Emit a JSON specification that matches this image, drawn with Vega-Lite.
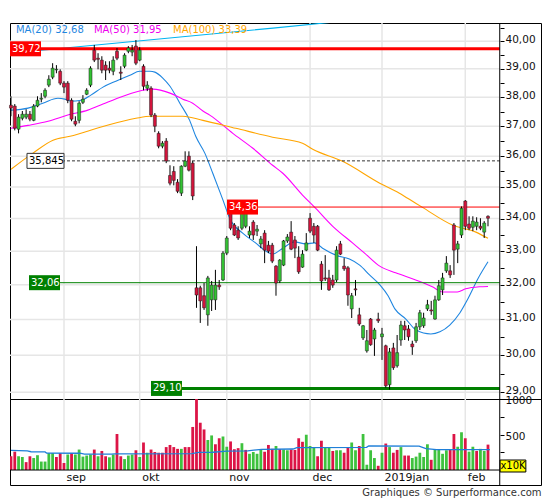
{
  "$schema": "https://vega.github.io/schema/vega-lite/v6.json",
  "padding": {"left": 7, "top": 20, "right": 0, "bottom": 0},
  "background": "white",
  "spacing": 0,
  "bounds": "flush",
  "title": {
    "text": "Graphiques © Surperformance.com",
    "orient": "bottom",
    "anchor": "end",
    "font": "DejaVu Sans",
    "fontSize": 10,
    "fontWeight": "normal",
    "color": "#333333",
    "offset": 2,
    "dx": 0
  },
  "config": {
    "view": {"stroke": "#000000", "strokeWidth": 1},
    "font": "DejaVu Sans",
    "axis": {"labelFont": "DejaVu Sans", "labelFontSize": 10.5, "labelColor": "#111111", "tickColor": "#000000"}
  },
  "datasets": {
    "grid": [
      {"p": 29}, {"p": 30}, {"p": 31}, {"p": 32}, {"p": 33}, {"p": 34},
      {"p": 35}, {"p": 36}, {"p": 37}, {"p": 38}, {"p": 39}, {"p": 40}
    ],
    "months": [
      {"i": 14, "m": "sep"}, {"i": 34, "m": "okt"}, {"i": 57, "m": "nov"},
      {"i": 79, "m": "dec"}, {"i": 98, "m": "2019jan"}, {"i": 120, "m": "feb"}
    ],
    "levels": [
      {"level": 39.72, "from": -0.26, "lbl": "39,72", "kind": "r3"},
      {"level": 35.845, "from": 4.23, "lbl": "35,845", "kind": "p"},
      {"level": 34.36, "from": 57.06, "lbl": "34,36", "kind": "r1"},
      {"level": 32.06, "from": 4.76, "lbl": "32,06", "kind": "g1"},
      {"level": 29.10, "from": 36.98, "lbl": "29,10", "kind": "g3"}
    ],
    "candles": [
      {"i": 0, "o": 37.72, "h": 38.03, "l": 37.34, "c": 37.62, "v": 195, "vd": "d"},
      {"i": 1, "o": 37.69, "h": 37.76, "l": 36.86, "c": 36.93, "v": 260, "vd": "d"},
      {"i": 2, "o": 36.90, "h": 37.41, "l": 36.76, "c": 37.31, "v": 195, "vd": "u"},
      {"i": 3, "o": 37.27, "h": 37.52, "l": 37.20, "c": 37.41, "v": 185, "vd": "u"},
      {"i": 4, "o": 37.31, "h": 37.58, "l": 37.24, "c": 37.41, "v": 112, "vd": "d"},
      {"i": 5, "o": 37.41, "h": 37.52, "l": 37.17, "c": 37.24, "v": 195, "vd": "d"},
      {"i": 6, "o": 37.20, "h": 37.76, "l": 37.17, "c": 37.69, "v": 170, "vd": "u"},
      {"i": 7, "o": 37.69, "h": 38.03, "l": 37.65, "c": 37.89, "v": 210, "vd": "u"},
      {"i": 8, "o": 37.93, "h": 38.14, "l": 37.82, "c": 37.96, "v": 120, "vd": "u"},
      {"i": 9, "o": 38.03, "h": 38.31, "l": 37.96, "c": 38.24, "v": 120, "vd": "u"},
      {"i": 10, "o": 38.42, "h": 38.77, "l": 38.35, "c": 38.63, "v": 240, "vd": "u"},
      {"i": 11, "o": 38.70, "h": 39.20, "l": 38.63, "c": 39.02, "v": 240, "vd": "u"},
      {"i": 12, "o": 38.96, "h": 39.13, "l": 38.84, "c": 38.98, "v": 185, "vd": "d"},
      {"i": 13, "o": 38.91, "h": 38.98, "l": 38.42, "c": 38.49, "v": 240, "vd": "d"},
      {"i": 14, "o": 38.49, "h": 38.56, "l": 38.14, "c": 38.35, "v": 100, "vd": "d"},
      {"i": 15, "o": 38.49, "h": 38.56, "l": 37.79, "c": 37.89, "v": 220, "vd": "u"},
      {"i": 16, "o": 37.89, "h": 37.96, "l": 37.17, "c": 37.24, "v": 240, "vd": "d"},
      {"i": 17, "o": 37.17, "h": 37.34, "l": 37.00, "c": 37.07, "v": 220, "vd": "u"},
      {"i": 18, "o": 37.20, "h": 37.86, "l": 37.10, "c": 37.79, "v": 290, "vd": "u"},
      {"i": 19, "o": 37.82, "h": 38.07, "l": 37.76, "c": 37.93, "v": 190, "vd": "u"},
      {"i": 20, "o": 38.10, "h": 38.31, "l": 38.07, "c": 38.24, "v": 205, "vd": "u"},
      {"i": 21, "o": 38.42, "h": 39.09, "l": 38.35, "c": 39.02, "v": 220, "vd": "u"},
      {"i": 22, "o": 39.67, "h": 39.86, "l": 39.24, "c": 39.31, "v": 290, "vd": "d"},
      {"i": 23, "o": 39.38, "h": 39.56, "l": 38.98, "c": 39.34, "v": 195, "vd": "u"},
      {"i": 24, "o": 39.31, "h": 39.45, "l": 38.84, "c": 38.95, "v": 270, "vd": "d"},
      {"i": 25, "o": 39.13, "h": 39.27, "l": 38.60, "c": 38.95, "v": 195, "vd": "d"},
      {"i": 26, "o": 39.02, "h": 39.27, "l": 38.84, "c": 38.95, "v": 180, "vd": "u"},
      {"i": 27, "o": 38.91, "h": 39.45, "l": 38.77, "c": 39.31, "v": 220, "vd": "u"},
      {"i": 28, "o": 39.63, "h": 39.75, "l": 39.31, "c": 39.38, "v": 510, "vd": "d"},
      {"i": 29, "o": 38.88, "h": 39.09, "l": 38.60, "c": 38.84, "v": 195, "vd": "d"},
      {"i": 30, "o": 39.09, "h": 39.56, "l": 39.02, "c": 39.49, "v": 155, "vd": "u"},
      {"i": 31, "o": 39.63, "h": 39.82, "l": 39.56, "c": 39.75, "v": 205, "vd": "u"},
      {"i": 32, "o": 39.60, "h": 39.86, "l": 39.45, "c": 39.67, "v": 220, "vd": "u"},
      {"i": 33, "o": 39.82, "h": 40.04, "l": 39.13, "c": 39.20, "v": 280, "vd": "d"},
      {"i": 34, "o": 39.31, "h": 39.78, "l": 39.27, "c": 39.67, "v": 185, "vd": "u"},
      {"i": 35, "o": 39.09, "h": 39.16, "l": 38.24, "c": 38.38, "v": 390, "vd": "d"},
      {"i": 36, "o": 38.31, "h": 38.56, "l": 38.21, "c": 38.42, "v": 245, "vd": "u"},
      {"i": 37, "o": 38.31, "h": 38.38, "l": 37.31, "c": 37.38, "v": 290, "vd": "d"},
      {"i": 38, "o": 37.38, "h": 37.45, "l": 36.80, "c": 37.00, "v": 255, "vd": "d"},
      {"i": 39, "o": 36.76, "h": 36.83, "l": 36.26, "c": 36.33, "v": 245, "vd": "d"},
      {"i": 40, "o": 36.33, "h": 36.50, "l": 36.26, "c": 36.43, "v": 245, "vd": "d"},
      {"i": 41, "o": 36.50, "h": 36.60, "l": 35.77, "c": 35.84, "v": 325, "vd": "d"},
      {"i": 42, "o": 35.37, "h": 35.70, "l": 35.05, "c": 35.12, "v": 355, "vd": "d"},
      {"i": 43, "o": 35.50, "h": 35.67, "l": 35.05, "c": 35.21, "v": 325, "vd": "d"},
      {"i": 44, "o": 35.15, "h": 35.25, "l": 34.80, "c": 34.86, "v": 300, "vd": "d"},
      {"i": 45, "o": 34.80, "h": 35.70, "l": 34.71, "c": 35.67, "v": 300, "vd": "u"},
      {"i": 46, "o": 35.67, "h": 36.16, "l": 35.64, "c": 35.84, "v": 325, "vd": "d"},
      {"i": 47, "o": 36.00, "h": 36.16, "l": 35.50, "c": 35.54, "v": 325, "vd": "d"},
      {"i": 48, "o": 35.77, "h": 35.84, "l": 34.58, "c": 34.71, "v": 610, "vd": "d"},
      {"i": 49, "o": 31.91, "h": 33.15, "l": 31.33, "c": 31.70, "v": 1035, "vd": "d"},
      {"i": 50, "o": 31.91, "h": 31.97, "l": 30.90, "c": 31.53, "v": 670, "vd": "d"},
      {"i": 51, "o": 31.68, "h": 32.05, "l": 31.27, "c": 31.33, "v": 575, "vd": "d"},
      {"i": 52, "o": 31.13, "h": 32.26, "l": 30.82, "c": 32.20, "v": 425, "vd": "u"},
      {"i": 53, "o": 31.56, "h": 32.11, "l": 31.24, "c": 31.99, "v": 490, "vd": "u"},
      {"i": 54, "o": 31.56, "h": 32.44, "l": 31.27, "c": 31.99, "v": 365, "vd": "d"},
      {"i": 55, "o": 31.99, "h": 32.14, "l": 31.85, "c": 31.94, "v": 450, "vd": "d"},
      {"i": 56, "o": 32.14, "h": 33.00, "l": 32.11, "c": 32.94, "v": 475, "vd": "u"},
      {"i": 57, "o": 32.94, "h": 33.46, "l": 32.88, "c": 33.40, "v": 330, "vd": "u"},
      {"i": 58, "o": 34.17, "h": 34.35, "l": 33.64, "c": 33.70, "v": 405, "vd": "d"},
      {"i": 59, "o": 33.80, "h": 33.86, "l": 33.46, "c": 33.49, "v": 295, "vd": "d"},
      {"i": 60, "o": 33.64, "h": 33.76, "l": 33.34, "c": 33.40, "v": 310, "vd": "d"},
      {"i": 61, "o": 33.70, "h": 34.23, "l": 33.64, "c": 34.17, "v": 380, "vd": "u"},
      {"i": 62, "o": 33.76, "h": 34.32, "l": 33.70, "c": 34.23, "v": 285, "vd": "d"},
      {"i": 63, "o": 33.49, "h": 33.76, "l": 33.40, "c": 33.61, "v": 230, "vd": "u"},
      {"i": 64, "o": 33.89, "h": 33.95, "l": 33.34, "c": 33.49, "v": 255, "vd": "u"},
      {"i": 65, "o": 33.61, "h": 33.80, "l": 33.46, "c": 33.67, "v": 230, "vd": "u"},
      {"i": 66, "o": 33.22, "h": 33.46, "l": 33.09, "c": 33.37, "v": 295, "vd": "u"},
      {"i": 67, "o": 33.55, "h": 33.64, "l": 32.64, "c": 33.03, "v": 260, "vd": "d"},
      {"i": 68, "o": 33.18, "h": 33.31, "l": 32.94, "c": 33.00, "v": 355, "vd": "d"},
      {"i": 69, "o": 33.18, "h": 33.25, "l": 32.64, "c": 32.70, "v": 300, "vd": "d"},
      {"i": 70, "o": 32.55, "h": 32.58, "l": 31.68, "c": 32.05, "v": 340, "vd": "u"},
      {"i": 71, "o": 32.11, "h": 32.76, "l": 32.05, "c": 32.73, "v": 295, "vd": "d"},
      {"i": 72, "o": 32.58, "h": 33.34, "l": 32.55, "c": 33.31, "v": 290, "vd": "u"},
      {"i": 73, "o": 33.31, "h": 33.52, "l": 33.25, "c": 33.43, "v": 280, "vd": "u"},
      {"i": 74, "o": 33.58, "h": 33.92, "l": 33.03, "c": 33.06, "v": 290, "vd": "d"},
      {"i": 75, "o": 33.34, "h": 33.46, "l": 32.79, "c": 33.09, "v": 285, "vd": "d"},
      {"i": 76, "o": 32.82, "h": 33.15, "l": 32.32, "c": 32.38, "v": 450, "vd": "d"},
      {"i": 77, "o": 32.52, "h": 33.03, "l": 32.50, "c": 32.91, "v": 400, "vd": "d"},
      {"i": 78, "o": 33.03, "h": 33.55, "l": 33.00, "c": 33.25, "v": 500, "vd": "u"},
      {"i": 79, "o": 34.01, "h": 34.17, "l": 33.55, "c": 33.61, "v": 340, "vd": "u"},
      {"i": 80, "o": 33.76, "h": 33.86, "l": 33.25, "c": 33.49, "v": 325, "vd": "u"},
      {"i": 81, "o": 33.76, "h": 33.80, "l": 33.00, "c": 33.03, "v": 195, "vd": "d"},
      {"i": 82, "o": 32.61, "h": 32.70, "l": 31.85, "c": 32.11, "v": 415, "vd": "d"},
      {"i": 83, "o": 32.20, "h": 32.88, "l": 32.11, "c": 32.17, "v": 325, "vd": "u"},
      {"i": 84, "o": 32.20, "h": 32.44, "l": 31.82, "c": 31.85, "v": 325, "vd": "u"},
      {"i": 85, "o": 32.14, "h": 32.29, "l": 31.91, "c": 31.99, "v": 270, "vd": "d"},
      {"i": 86, "o": 32.14, "h": 33.15, "l": 32.08, "c": 33.03, "v": 280, "vd": "u"},
      {"i": 87, "o": 33.22, "h": 33.31, "l": 32.88, "c": 32.91, "v": 280, "vd": "u"},
      {"i": 88, "o": 32.55, "h": 32.79, "l": 32.41, "c": 32.47, "v": 245, "vd": "d"},
      {"i": 89, "o": 32.50, "h": 32.55, "l": 31.39, "c": 31.70, "v": 320, "vd": "d"},
      {"i": 90, "o": 31.30, "h": 31.76, "l": 31.04, "c": 31.68, "v": 390, "vd": "u"},
      {"i": 91, "o": 31.88, "h": 32.14, "l": 31.68, "c": 31.85, "v": 280, "vd": "u"},
      {"i": 92, "o": 31.13, "h": 31.33, "l": 30.82, "c": 30.87, "v": 340, "vd": "d"},
      {"i": 93, "o": 30.48, "h": 30.84, "l": 30.42, "c": 30.82, "v": 510, "vd": "u"},
      {"i": 94, "o": 30.12, "h": 30.70, "l": 30.07, "c": 30.40, "v": 75, "vd": "u"},
      {"i": 95, "o": 31.01, "h": 31.04, "l": 30.26, "c": 30.29, "v": 280, "vd": "u"},
      {"i": 96, "o": 30.45, "h": 30.76, "l": 29.98, "c": 30.70, "v": 170, "vd": "u"},
      {"i": 97, "o": 31.01, "h": 31.19, "l": 30.90, "c": 30.96, "v": 60, "vd": "d"},
      {"i": 98, "o": 30.51, "h": 30.76, "l": 29.87, "c": 30.59, "v": 245, "vd": "u"},
      {"i": 99, "o": 30.26, "h": 30.29, "l": 29.12, "c": 29.17, "v": 375, "vd": "d"},
      {"i": 100, "o": 29.20, "h": 30.20, "l": 29.07, "c": 30.09, "v": 325, "vd": "u"},
      {"i": 101, "o": 30.20, "h": 30.34, "l": 29.60, "c": 29.66, "v": 245, "vd": "d"},
      {"i": 102, "o": 29.71, "h": 30.56, "l": 29.66, "c": 30.07, "v": 285, "vd": "d"},
      {"i": 103, "o": 30.42, "h": 30.96, "l": 30.26, "c": 30.84, "v": 325, "vd": "u"},
      {"i": 104, "o": 30.82, "h": 30.96, "l": 30.42, "c": 30.70, "v": 205, "vd": "d"},
      {"i": 105, "o": 30.73, "h": 30.84, "l": 30.40, "c": 30.51, "v": 205, "vd": "d"},
      {"i": 106, "o": 30.31, "h": 30.40, "l": 30.01, "c": 30.23, "v": 170, "vd": "u"},
      {"i": 107, "o": 30.40, "h": 30.90, "l": 30.34, "c": 30.79, "v": 190, "vd": "u"},
      {"i": 108, "o": 30.79, "h": 31.27, "l": 30.70, "c": 31.19, "v": 245, "vd": "u"},
      {"i": 109, "o": 30.82, "h": 31.19, "l": 30.76, "c": 31.04, "v": 185, "vd": "u"},
      {"i": 110, "o": 31.30, "h": 31.56, "l": 31.24, "c": 31.42, "v": 365, "vd": "u"},
      {"i": 111, "o": 31.27, "h": 31.53, "l": 31.13, "c": 31.24, "v": 145, "vd": "d"},
      {"i": 112, "o": 31.01, "h": 31.68, "l": 30.99, "c": 31.56, "v": 290, "vd": "u"},
      {"i": 113, "o": 31.56, "h": 32.14, "l": 31.53, "c": 31.97, "v": 290, "vd": "u"},
      {"i": 114, "o": 31.85, "h": 32.35, "l": 31.70, "c": 32.20, "v": 230, "vd": "u"},
      {"i": 115, "o": 32.41, "h": 32.85, "l": 32.35, "c": 32.64, "v": 280, "vd": "u"},
      {"i": 116, "o": 32.41, "h": 32.58, "l": 32.20, "c": 32.29, "v": 285, "vd": "d"},
      {"i": 117, "o": 33.80, "h": 33.86, "l": 32.29, "c": 33.03, "v": 510, "vd": "d"},
      {"i": 118, "o": 33.06, "h": 33.31, "l": 32.64, "c": 33.22, "v": 330, "vd": "u"},
      {"i": 119, "o": 33.49, "h": 34.38, "l": 33.40, "c": 34.32, "v": 535, "vd": "u"},
      {"i": 120, "o": 34.55, "h": 34.58, "l": 33.64, "c": 33.76, "v": 450, "vd": "d"},
      {"i": 121, "o": 33.83, "h": 34.07, "l": 33.64, "c": 33.70, "v": 260, "vd": "u"},
      {"i": 122, "o": 33.73, "h": 34.07, "l": 33.61, "c": 33.92, "v": 330, "vd": "u"},
      {"i": 123, "o": 33.76, "h": 34.04, "l": 33.64, "c": 33.89, "v": 270, "vd": "d"},
      {"i": 124, "o": 33.76, "h": 34.01, "l": 33.64, "c": 33.70, "v": 300, "vd": "u"},
      {"i": 125, "o": 33.58, "h": 33.92, "l": 33.40, "c": 33.86, "v": 270, "vd": "u"},
      {"i": 126, "o": 34.07, "h": 34.10, "l": 33.76, "c": 34.01, "v": 360, "vd": "d"}
    ],
    "ma": [
      {"s": "MA20", "i": 0, "v": 37.55}, {"s": "MA20", "i": 4.5, "v": 37.62},
      {"s": "MA20", "i": 8.4, "v": 37.79}, {"s": "MA20", "i": 12.4, "v": 37.96},
      {"s": "MA20", "i": 14.2, "v": 37.93}, {"s": "MA20", "i": 15.8, "v": 37.86},
      {"s": "MA20", "i": 18.5, "v": 37.89}, {"s": "MA20", "i": 21.1, "v": 38.07},
      {"s": "MA20", "i": 24.3, "v": 38.35}, {"s": "MA20", "i": 27.7, "v": 38.56},
      {"s": "MA20", "i": 31.4, "v": 38.77}, {"s": "MA20", "i": 34, "v": 38.91},
      {"s": "MA20", "i": 36.7, "v": 38.91}, {"s": "MA20", "i": 38, "v": 38.88},
      {"s": "MA20", "i": 40.1, "v": 38.67}, {"s": "MA20", "i": 42, "v": 38.38},
      {"s": "MA20", "i": 44.6, "v": 37.79}, {"s": "MA20", "i": 47.2, "v": 37.2},
      {"s": "MA20", "i": 48.8, "v": 36.66}, {"s": "MA20", "i": 51.2, "v": 36.1},
      {"s": "MA20", "i": 53.3, "v": 35.44}, {"s": "MA20", "i": 55.9, "v": 34.61},
      {"s": "MA20", "i": 58, "v": 33.95}, {"s": "MA20", "i": 61.2, "v": 33.55},
      {"s": "MA20", "i": 64.6, "v": 33.25}, {"s": "MA20", "i": 67.3, "v": 33.0},
      {"s": "MA20", "i": 69.1, "v": 32.91}, {"s": "MA20", "i": 71.8, "v": 33.09},
      {"s": "MA20", "i": 74.9, "v": 33.28}, {"s": "MA20", "i": 77.8, "v": 33.22},
      {"s": "MA20", "i": 80.2, "v": 33.25}, {"s": "MA20", "i": 82.3, "v": 33.09},
      {"s": "MA20", "i": 85.8, "v": 32.88}, {"s": "MA20", "i": 89.4, "v": 32.76},
      {"s": "MA20", "i": 92.1, "v": 32.58}, {"s": "MA20", "i": 94.7, "v": 32.29},
      {"s": "MA20", "i": 97.5, "v": 31.99}, {"s": "MA20", "i": 99.6, "v": 31.68},
      {"s": "MA20", "i": 101.4, "v": 31.3}, {"s": "MA20", "i": 104.3, "v": 31.01},
      {"s": "MA20", "i": 107, "v": 30.7}, {"s": "MA20", "i": 110.9, "v": 30.59},
      {"s": "MA20", "i": 113.3, "v": 30.65}, {"s": "MA20", "i": 115.9, "v": 30.84},
      {"s": "MA20", "i": 118.6, "v": 31.19}, {"s": "MA20", "i": 120.7, "v": 31.59},
      {"s": "MA20", "i": 123.3, "v": 32.17}, {"s": "MA20", "i": 126, "v": 32.68},
      {"s": "MA50", "i": 0, "v": 36.93}, {"s": "MA50", "i": 4.5, "v": 37.03},
      {"s": "MA50", "i": 9.8, "v": 37.17}, {"s": "MA50", "i": 15, "v": 37.38},
      {"s": "MA50", "i": 20.3, "v": 37.55}, {"s": "MA50", "i": 24.3, "v": 37.76},
      {"s": "MA50", "i": 29.6, "v": 38.03}, {"s": "MA50", "i": 34.8, "v": 38.24},
      {"s": "MA50", "i": 37.5, "v": 38.28}, {"s": "MA50", "i": 42, "v": 38.14},
      {"s": "MA50", "i": 45.4, "v": 37.93}, {"s": "MA50", "i": 48, "v": 37.79},
      {"s": "MA50", "i": 50.7, "v": 37.52}, {"s": "MA50", "i": 52.5, "v": 37.38},
      {"s": "MA50", "i": 58.6, "v": 36.76}, {"s": "MA50", "i": 63.9, "v": 36.26},
      {"s": "MA50", "i": 69.1, "v": 35.7}, {"s": "MA50", "i": 71.8, "v": 35.44},
      {"s": "MA50", "i": 77, "v": 34.74}, {"s": "MA50", "i": 80.5, "v": 34.32},
      {"s": "MA50", "i": 85, "v": 33.76}, {"s": "MA50", "i": 90.2, "v": 33.25},
      {"s": "MA50", "i": 93.4, "v": 32.94}, {"s": "MA50", "i": 97.4, "v": 32.55},
      {"s": "MA50", "i": 101.6, "v": 32.35}, {"s": "MA50", "i": 106.9, "v": 32.14},
      {"s": "MA50", "i": 111.3, "v": 31.94}, {"s": "MA50", "i": 114, "v": 31.79},
      {"s": "MA50", "i": 117.9, "v": 31.79}, {"s": "MA50", "i": 120.1, "v": 31.88},
      {"s": "MA50", "i": 123.7, "v": 31.94}, {"s": "MA50", "i": 126, "v": 31.95},
      {"s": "MA100", "i": 0, "v": 35.57}, {"s": "MA100", "i": 5.8, "v": 36.1},
      {"s": "MA100", "i": 11.1, "v": 36.53}, {"s": "MA100", "i": 15.6, "v": 36.66},
      {"s": "MA100", "i": 24.3, "v": 36.99}, {"s": "MA100", "i": 33, "v": 37.27},
      {"s": "MA100", "i": 36.9, "v": 37.34}, {"s": "MA100", "i": 45.4, "v": 37.34},
      {"s": "MA100", "i": 50.7, "v": 37.2}, {"s": "MA100", "i": 59.4, "v": 36.93},
      {"s": "MA100", "i": 69.1, "v": 36.63}, {"s": "MA100", "i": 77, "v": 36.43},
      {"s": "MA100", "i": 79.7, "v": 36.23}, {"s": "MA100", "i": 87.6, "v": 35.83},
      {"s": "MA100", "i": 97.4, "v": 35.12}, {"s": "MA100", "i": 102.6, "v": 34.8},
      {"s": "MA100", "i": 106.9, "v": 34.48}, {"s": "MA100", "i": 108.7, "v": 34.35},
      {"s": "MA100", "i": 116.6, "v": 33.8}, {"s": "MA100", "i": 122.8, "v": 33.58},
      {"s": "MA100", "i": 126, "v": 33.39},
      {"s": "MA200", "i": -0.26, "v": 39.56}, {"s": "MA200", "i": 69.2, "v": 40.48},
      {"s": "MA200", "i": 87.7, "v": 40.74}
    ],
    "vma": [
      {"i": 0, "v": 278}, {"i": 4.3, "v": 270}, {"i": 5.3, "v": 259}, {"i": 9, "v": 256},
      {"i": 9.4, "v": 240}, {"i": 18.2, "v": 238}, {"i": 19.4, "v": 225}, {"i": 26.5, "v": 226},
      {"i": 27.4, "v": 230}, {"i": 47.8, "v": 232}, {"i": 49.6, "v": 249}, {"i": 53.3, "v": 252},
      {"i": 57, "v": 268}, {"i": 62.5, "v": 272}, {"i": 66.2, "v": 293}, {"i": 74.5, "v": 298},
      {"i": 75.5, "v": 317}, {"i": 93.9, "v": 322}, {"i": 94.5, "v": 342}, {"i": 107.8, "v": 340},
      {"i": 109.6, "v": 303}, {"i": 112.4, "v": 290}, {"i": 126.5, "v": 290}
    ]
  },
  "vconcat": [
    {
      "width": 531,
      "height": 376,
      "resolve": {"axis": {"y": "independent"}},
      "layer": [
        {
          "data": {"name": "grid"},
          "mark": {"type": "rule", "color": "#e6e6e6", "strokeWidth": 1.5},
          "encoding": {
            "y": {
              "field": "p",
              "type": "quantitative",
              "scale": {"type": "log", "domain": [28.82, 40.67], "nice": false, "zero": false, "padding": 0},
              "axis": {
                "orient": "right",
                "offset": -41,
                "title": null,
                "grid": false,
                "domain": false,
                "tickSize": 4,
                "labelPadding": 1,
                "labelOffset": -2,
                "labelOverlap": false,
                "values": [29, 29.5, 30, 30.5, 31, 31.5, 32, 32.5, 33, 33.5, 34, 34.5, 35, 35.5, 36, 36.5, 37, 37.5, 38, 38.5, 39, 39.5, 40, 40.5],
                "labelExpr": "datum.value % 1 == 0 ? replace(format(datum.value, '.2f'), '.', ',') : ''"
              }
            },
            "x": {
              "datum": -0.26,
              "type": "quantitative",
              "scale": {"domain": [-0.26, 140], "nice": false, "zero": false, "padding": 0},
              "axis": null
            },
            "x2": {"datum": 129.1}
          }
        },
        {
          "data": {"name": "months"},
          "mark": {"type": "rule", "color": "#e6e6e6", "strokeWidth": 1.5},
          "encoding": {
            "x": {"field": "i", "type": "quantitative", "axis": null}
          }
        },
        {
          "data": {"name": "ma"},
          "mark": {"type": "line", "strokeWidth": 1.1, "clip": true, "interpolate": "monotone"},
          "encoding": {
            "x": {"field": "i", "type": "quantitative", "axis": null},
            "y": {"field": "v", "type": "quantitative", "axis": null},
            "color": {
              "field": "s",
              "type": "nominal",
              "scale": {"domain": ["MA20", "MA50", "MA100", "MA200"], "range": ["#1f86e0", "#ff00ff", "#ffa500", "#00b4f0"]},
              "legend": null
            }
          }
        },
        {
          "data": {"name": "levels"},
          "mark": {"type": "rule"},
          "encoding": {
            "x": {"field": "from", "type": "quantitative", "axis": null},
            "x2": {"datum": 129.1},
            "y": {"field": "level", "type": "quantitative", "axis": null},
            "color": {
              "condition": [
                {"test": "datum.kind == 'r3' || datum.kind == 'r1'", "value": "#ff0000"},
                {"test": "datum.kind == 'p'", "value": "#333333"}
              ],
              "value": "#008000"
            },
            "strokeWidth": {
              "condition": {"test": "datum.kind == 'r3' || datum.kind == 'g3'", "value": 3},
              "value": 1
            },
            "strokeDash": {
              "condition": {"test": "datum.kind == 'p'", "value": [3, 2]},
              "value": [1, 0]
            }
          }
        },
        {
          "data": {"values": [{}]},
          "mark": {"type": "rule", "color": "#000000", "strokeWidth": 1},
          "encoding": {
            "x": {"datum": 129.1, "type": "quantitative", "axis": null}
          }
        },
        {
          "data": {"name": "candles"},
          "mark": {"type": "rule", "color": "#000000", "strokeWidth": 1},
          "encoding": {
            "x": {"field": "i", "type": "quantitative", "axis": null},
            "y": {"field": "l", "type": "quantitative", "axis": null},
            "y2": {"field": "h"}
          }
        },
        {
          "data": {"name": "candles"},
          "mark": {"type": "bar", "width": 3, "stroke": "#1a1a1a", "strokeWidth": 0.5},
          "encoding": {
            "x": {"field": "i", "type": "quantitative", "axis": null},
            "y": {"field": "o", "type": "quantitative", "axis": null},
            "y2": {"field": "c"},
            "color": {"condition": {"test": "datum.c >= datum.o", "value": "#33c233"}, "value": "#d4143c"}
          }
        },
        {
          "data": {"name": "levels"},
          "transform": [{"filter": "datum.kind != 'p'"}],
          "mark": {"type": "rect", "width": 31, "height": 15, "xOffset": 15.5},
          "encoding": {
            "x": {"field": "from", "type": "quantitative", "axis": null},
            "y": {"field": "level", "type": "quantitative", "axis": null},
            "color": {
              "condition": {"test": "datum.kind == 'r3' || datum.kind == 'r1'", "value": "#ff0000"},
              "value": "#008000"
            }
          }
        },
        {
          "data": {"name": "levels"},
          "transform": [{"filter": "datum.kind == 'p'"}],
          "mark": {"type": "rect", "width": 37, "height": 15, "xOffset": 18.5, "fill": "#ffffff", "stroke": "#333333", "strokeWidth": 1},
          "encoding": {
            "x": {"field": "from", "type": "quantitative", "axis": null},
            "y": {"field": "level", "type": "quantitative", "axis": null}
          }
        },
        {
          "data": {"name": "levels"},
          "mark": {"type": "text", "align": "left", "baseline": "middle", "dx": 2, "fontSize": 10, "font": "DejaVu Sans"},
          "encoding": {
            "x": {"field": "from", "type": "quantitative", "axis": null},
            "y": {"field": "level", "type": "quantitative", "axis": null},
            "text": {"field": "lbl"},
            "color": {"condition": {"test": "datum.kind == 'p'", "value": "#000000"}, "value": "#ffffff"}
          }
        },
        {
          "data": {"values": [{}]},
          "mark": {"type": "text", "align": "left", "baseline": "middle", "fontSize": 10, "font": "DejaVu Sans", "color": "#1f86e0"},
          "encoding": {
            "x": {"datum": 1.32, "type": "quantitative", "axis": null},
            "y": {"datum": 40.41, "type": "quantitative", "axis": null},
            "text": {"value": "MA(20)  32,68"}
          }
        },
        {
          "data": {"values": [{}]},
          "mark": {"type": "text", "align": "left", "baseline": "middle", "fontSize": 10, "font": "DejaVu Sans", "color": "#ee00ee"},
          "encoding": {
            "x": {"datum": 21.9, "type": "quantitative", "axis": null},
            "y": {"datum": 40.41, "type": "quantitative", "axis": null},
            "text": {"value": "MA(50)  31,95"}
          }
        },
        {
          "data": {"values": [{}]},
          "mark": {"type": "text", "align": "left", "baseline": "middle", "fontSize": 10, "font": "DejaVu Sans", "color": "#ffa500"},
          "encoding": {
            "x": {"datum": 42.8, "type": "quantitative", "axis": null},
            "y": {"datum": 40.41, "type": "quantitative", "axis": null},
            "text": {"value": "MA(100)  33,39"}
          }
        }
      ]
    },
    {
      "width": 531,
      "height": 86,
      "resolve": {"axis": {"y": "independent"}},
      "layer": [
        {
          "data": {"name": "candles"},
          "mark": {"type": "point", "opacity": 0},
          "encoding": {
            "x": {
              "field": "i",
              "type": "quantitative",
              "scale": {"domain": [-0.26, 140], "nice": false, "zero": false, "padding": 0},
              "axis": {
                "orient": "bottom",
                "offset": -15,
                "title": null,
                "grid": false,
                "domain": false,
                "ticks": false,
                "labelAlign": "left",
                "labelBaseline": "top",
                "labelPadding": 1.5,
                "labelOffset": 2,
                "labelFontSize": 11,
                "labelOverlap": false,
                "labelFlush": false,
                "values": [14, 34, 57, 79, 98, 120],
                "labelExpr": "datum.value == 14 ? 'sep' : datum.value == 34 ? 'okt' : datum.value == 57 ? 'nov' : datum.value == 79 ? 'dec' : datum.value == 98 ? '2019jan' : 'feb'"
              }
            },
            "y": {
              "field": "v",
              "type": "quantitative",
              "scale": {"domain": [-212, 1006], "nice": false, "zero": false, "padding": 0},
              "axis": {
                "orient": "right",
                "offset": -41,
                "title": null,
                "grid": false,
                "domain": false,
                "tickSize": 4,
                "labelPadding": 1,
                "labelOffset": 1.5,
                "labelOverlap": false,
                "values": [250, 500, 750, 1000],
                "labelExpr": "datum.value == 500 || datum.value == 1000 ? toString(datum.value) : ''"
              }
            }
          }
        },
        {
          "data": {"name": "months"},
          "mark": {"type": "rule", "color": "#e6e6e6", "strokeWidth": 1.5},
          "encoding": {
            "x": {"field": "i", "type": "quantitative"},
            "y": {"datum": 0, "type": "quantitative", "axis": null},
            "y2": {"datum": 1006}
          }
        },
        {
          "data": {"name": "candles"},
          "mark": {"type": "bar", "width": 2.8, "clip": true},
          "encoding": {
            "x": {"field": "i", "type": "quantitative"},
            "y": {"field": "v", "type": "quantitative", "axis": null},
            "y2": {"datum": 0},
            "color": {"condition": {"test": "datum.vd == 'u'", "value": "#3ec23e"}, "value": "#dc1446"}
          }
        },
        {
          "data": {"name": "vma"},
          "mark": {"type": "line", "color": "#1f7fd8", "strokeWidth": 1.3},
          "encoding": {
            "x": {"field": "i", "type": "quantitative"},
            "y": {"field": "v", "type": "quantitative", "axis": null}
          }
        },
        {
          "data": {"values": [{}]},
          "mark": {"type": "rule", "color": "#000000", "strokeWidth": 1},
          "encoding": {
            "x": {"datum": -0.26, "type": "quantitative"},
            "x2": {"datum": 129.1},
            "y": {"datum": 0, "type": "quantitative", "axis": null}
          }
        },
        {
          "data": {"values": [{}]},
          "mark": {"type": "rule", "color": "#000000", "strokeWidth": 1},
          "encoding": {
            "x": {"datum": 129.1, "type": "quantitative"}
          }
        },
        {
          "data": {"values": [{}]},
          "mark": {"type": "rect", "fill": "#ffff00", "stroke": "#000000", "strokeWidth": 1},
          "encoding": {
            "x": {"datum": 129.2, "type": "quantitative"},
            "x2": {"datum": 136},
            "y": {"datum": 142, "type": "quantitative", "axis": null},
            "y2": {"datum": -28}
          }
        },
        {
          "data": {"values": [{}]},
          "mark": {"type": "text", "align": "center", "baseline": "middle", "fontSize": 10, "font": "DejaVu Sans", "color": "#000000"},
          "encoding": {
            "x": {"datum": 132.6, "type": "quantitative"},
            "y": {"datum": 57, "type": "quantitative", "axis": null},
            "text": {"value": "x10K"}
          }
        }
      ]
    }
  ]
}
